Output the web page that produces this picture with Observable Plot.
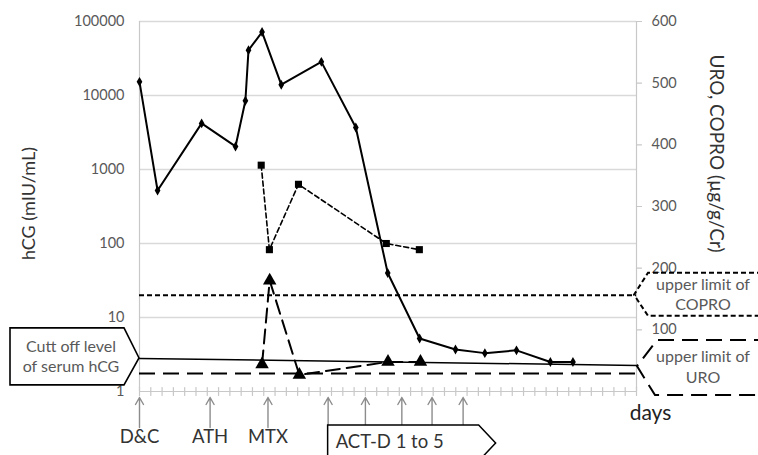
<!DOCTYPE html>
<html><head><meta charset="utf-8">
<script src="https://cdn.jsdelivr.net/npm/d3@7"></script>
<script src="https://cdn.jsdelivr.net/npm/@observablehq/plot@0.6"></script>
<style>body{margin:0;background:#fff} svg{font-family:Lato,"Open Sans",sans-serif}</style>
</head><body><div id="chart"></div>
<script>
// hCG (left axis, log)
const hcgDays   = [0, 6.4, 22, 34, 37.5, 38.6, 43.4, 50.2, 64.4, 76.6, 87.9, 99.2, 111.9, 122.3, 133.5, 145.5, 153.5];
const hcgValues = [15300, 520, 4200, 2050, 8500, 41000, 72000, 14000, 28500, 3700, 40, 5.2, 3.7, 3.3, 3.6, 2.5, 2.5];
// COPRO and URO (right axis, linear µg/g/Cr)
const coproDays   = [43.1, 46, 56.3, 87.4, 99.1];
const coproValues = [367, 230, 336, 240, 230];
const uroDays   = [43.4, 46.1, 56.6, 88, 99.5];
const uroValues = [44, 180, 27, 48, 48];
// reference levels
const cutoffDays = [0, 176];
const cutoffValues = [2.8, 2.25];
const coproLimit = 156;
const uroLimit = 29;
// treatment events
const eventDays = [0, 25, 45.5, 66.8, 80, 92.9, 103.6, 114.6];
const eventNames = ["D&C", "ATH", "MTX"];
const actdLabel = "ACT-D 1 to 5";
// ticks
const leftTicks = [1, 10, 100, 1000, 10000, 100000];
const gridTicks = [10, 100, 1000, 10000, 100000];
const rightTicks = [100, 200, 300, 400, 500, 600];
const dayTicks = d3.range(0, 177, 4);

// right axis 0..600 mapped onto left log axis 1..100000
const toY = v => Math.pow(10, v / 120);

const hcg = hcgDays.map((d, i) => ({day: d, v: hcgValues[i]}));
const copro = coproDays.map((d, i) => ({day: d, v: toY(coproValues[i])}));
const uro = uroDays.map((d, i) => ({day: d, v: toY(uroValues[i])}));
const cutoff = cutoffDays.map((d, i) => ({day: d, v: cutoffValues[i]}));
const events = eventNames.map((t, i) => ({day: eventDays[i], text: t}));

const tickShape = {draw(ctx, l) { ctx.moveTo(0, 0); ctx.lineTo(0, -l); }};
const arrowShape = {draw(ctx, l) {
  ctx.moveTo(0, 0); ctx.lineTo(0, -l);
  ctx.moveTo(-4, -l + 7); ctx.lineTo(0, -l); ctx.lineTo(4, -l + 7);
}};

const gray = "#595959";
const chart = Plot.plot({
  width: 758, height: 455,
  marginLeft: 139, marginRight: 122, marginTop: 21, marginBottom: 64,
  style: {fontFamily: "Lato, 'Open Sans', sans-serif", fontSize: "14px", background: "#fff", overflow: "visible"},
  x: {domain: [0, 176], axis: null},
  y: {type: "log", domain: [1, 100000], axis: null},
  marks: [
    Plot.ruleY(gridTicks, {stroke: "#d9d9d9", strokeWidth: 1.5}),
    Plot.ruleX([0, 176], {stroke: "#c8c8c8", strokeWidth: 1.2}),
    Plot.ruleY([1], {stroke: "#c8c8c8", strokeWidth: 1.2}),
    Plot.vector(dayTicks, {x: d => d, frameAnchor: "bottom", length: 8, anchor: "middle", shape: tickShape, stroke: "#c8c8c8", strokeWidth: 1.2}),
    // left axis labels
    Plot.text(leftTicks, {y: d => d, text: d => String(d), frameAnchor: "left", dx: -15, textAnchor: "end", fill: gray, fontSize: 14.5}),
    // right axis ticks and labels
    Plot.vector(rightTicks, {y: d => toY(d), frameAnchor: "right", length: 5, anchor: "start", rotate: 90, shape: tickShape, stroke: "#c8c8c8", strokeWidth: 1.2}),
    Plot.text(rightTicks, {y: d => toY(d), text: d => String(d), frameAnchor: "right", dx: 15, textAnchor: "start", fill: gray, fontSize: 14.5}),
    Plot.text(["hCG (mIU/mL)"], {frameAnchor: "left", textAnchor: "middle", dx: -110, dy: -3, rotate: -90, fontSize: 18, fill: "#333"}),
    Plot.text(["URO, COPRO (µg/g/Cr)"], {frameAnchor: "right", textAnchor: "middle", dx: 80, dy: -53, rotate: 90, fontSize: 19, fill: "#333"}),
    Plot.text(["days"], {frameAnchor: "bottom-right", textAnchor: "middle", dx: 14, dy: 28, fontSize: 21, fill: "#222"}),
    // reference lines
    Plot.line(cutoff, {x: "day", y: "v", stroke: "#000", strokeWidth: 1.5}),
    Plot.ruleY([toY(coproLimit)], {stroke: "#000", strokeWidth: 2, strokeDasharray: "5,3"}),
    Plot.ruleY([toY(uroLimit)], {stroke: "#000", strokeWidth: 2, strokeDasharray: "16,8"}),
    // series
    Plot.line(hcg, {x: "day", y: "v", stroke: "#000", strokeWidth: 2}),
    Plot.dot(hcg, {x: "day", y: "v", symbol: "diamond", r: 3, fill: "#000"}),
    Plot.line(copro, {x: "day", y: "v", stroke: "#000", strokeWidth: 1.6, strokeDasharray: "5,3"}),
    Plot.dot(copro, {x: "day", y: "v", symbol: "square", r: 4, fill: "#000"}),
    Plot.line(uro, {x: "day", y: "v", stroke: "#000", strokeWidth: 2, strokeDasharray: "14,7"}),
    Plot.dot(uro, {x: "day", y: "v", symbol: "triangle", r: 5, fill: "#000"}),
    // events
    Plot.vector(eventDays, {x: d => d, frameAnchor: "bottom", dy: 36, length: 30, anchor: "start", shape: arrowShape, stroke: "#8c8c8c", strokeWidth: 1.4}),
    Plot.text(events, {x: "day", text: "text", frameAnchor: "bottom", dy: 51, fontSize: 18.5, fill: "#333"})
  ]
});
document.getElementById("chart").appendChild(chart);

const X = chart.scale("x"), Y = chart.scale("y");
const svg = d3.select(chart);
const g = svg.append("g").attr("fill", "none").attr("stroke", "#000");
const label = (x, y, t, size) => svg.append("text").attr("x", x).attr("y", y)
  .attr("text-anchor", "middle").attr("fill", gray).attr("font-size", size).text(t);

// cut-off callout
{
  const tx = X.apply(cutoffDays[0]), ty = Y.apply(cutoffValues[0]);
  g.append("path").attr("stroke-width", 1.6)
    .attr("d", `M10,${ty - 30}L${tx - 15},${ty - 30}L${tx},${ty}L${tx - 15},${ty + 27}L10,${ty + 27}Z`)
    .attr("fill", "#fff");
  label(71, ty - 6, "Cutt off level", 16);
  label(71, ty + 14, "of serum hCG", 16);
}
// COPRO callout
{
  const tx = X.apply(176) - 2, ty = Y.apply(toY(coproLimit));
  g.append("path").attr("stroke-width", 2).attr("stroke-dasharray", "5,3")
    .attr("d", `M770,${ty - 22}L${tx + 14},${ty - 22}L${tx},${ty}L${tx + 14},${ty + 21}L770,${ty + 21}`);
  label(703, ty - 5, "upper limit of", 16);
  label(703, ty + 15, "COPRO", 16);
}
// URO callout
{
  const tx = X.apply(176) + 1, ty = Y.apply(toY(uroLimit)) - 7;
  g.append("path").attr("stroke-width", 2).attr("stroke-dasharray", "16,8")
    .attr("d", `M770,${ty - 26}L${tx + 20},${ty - 26}L${tx},${ty}L${tx + 18},${ty + 29}L770,${ty + 29}`);
  label(703, ty - 4, "upper limit of", 16);
  label(703, ty + 17, "URO", 16);
}
// ACT-D box
{
  const lx = X.apply(eventDays[3]), by = Y.apply(1);
  g.append("path").attr("stroke-width", 1.5).attr("fill", "#fff")
    .attr("d", `M${lx},${by + 75}L${lx},${by + 34}L${lx + 151},${by + 34}L${lx + 168},${by + 52}L${lx + 151},${by + 70}`);
  svg.append("text").attr("x", lx + 8).attr("y", by + 57).attr("text-anchor", "start")
    .attr("fill", "#333").attr("font-size", 18.5).text(actdLabel);
}
</script>
</body></html>
